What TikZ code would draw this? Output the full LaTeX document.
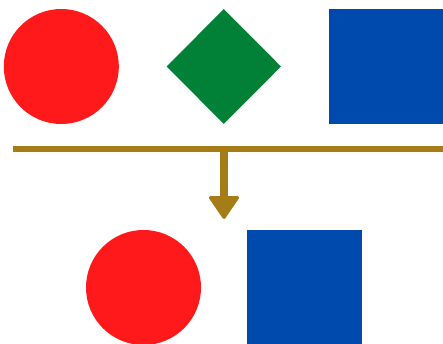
\documentclass[tikz,border=0pt]{standalone}
\usetikzlibrary{shapes,positioning,arrows.meta}

\definecolor{ballred}{RGB}{255,25,26}
\definecolor{gemgreen}{RGB}{1,128,55}
\definecolor{boxblue}{RGB}{0,74,173}
\definecolor{bargold}{RGB}{166,124,22}

\begin{document}
\begin{tikzpicture}[x=1pt,y=-1pt,node distance=162.5pt,
  redball/.style={circle,fill=ballred,inner sep=0pt,minimum size=115pt},
  greengem/.style={diamond,fill=gemgreen,inner sep=0pt,minimum width=114.5pt,minimum height=115pt},
  bluebox/.style={rectangle,fill=boxblue,inner sep=0pt,minimum size=115pt}]
\useasboundingbox (0,0) rectangle (443,344);
\node[redball] (c1) at (61.3,66.5) {};
\node[greengem] (d1) [right of=c1] {};
\node[bluebox] (s1) [right of=d1] {};
\node[redball] (c2) at (143.5,287.5) {};
\node[bluebox] (s2) [right of=c2,node distance=161pt] {};
\coordinate (barl) at (13,149);
\coordinate (barr) at (446,149);
\coordinate (bardrop) at (224,151);
\coordinate (droptip) at (224,219);
\draw[bargold,line width=5.5pt] (barl) -- (barr);
\draw[bargold,line width=8pt,-{Triangle[width=32pt,length=24pt,round,line width=3pt]}] (bardrop) -- (droptip);
\end{tikzpicture}
\end{document}
